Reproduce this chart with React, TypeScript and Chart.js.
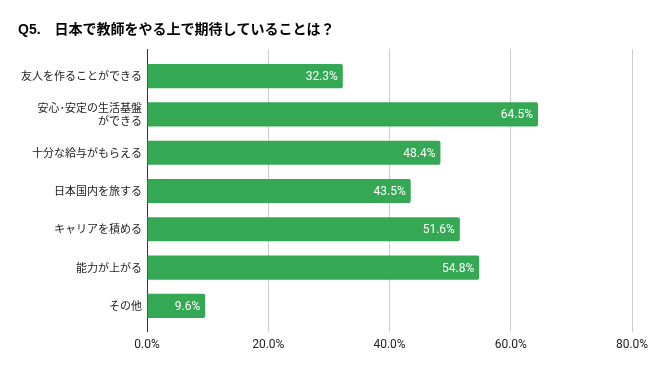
import React, { useEffect, useRef } from "react";
import { Chart, registerables } from "chart.js";

Chart.register(...registerables);

const titleText = "Q5.　日本で教師をやる上で期待していることは？";
const categories: (string | string[])[] = [
  "友人を作ることができる",
  ["安心･安定の生活基盤", "ができる"],
  "十分な給与がもらえる",
  "日本国内を旅する",
  "キャリアを積める",
  "能力が上がる",
  "その他",
];
const values = [32.3, 64.5, 48.4, 43.5, 51.6, 54.8, 9.6];
const xTicks = [0, 20, 40, 60, 80];

const BAR_COLOR = "#34a853";

const gridExtend = {
  id: "gridExtend",
  beforeDatasetsDraw(chart: any) {
    const { ctx, chartArea, scales } = chart;
    const x = scales.x;
    ctx.save();
    ctx.lineWidth = 1;
    xTicks.forEach((t, i) => {
      const px = Math.round(x.getPixelForValue(t) - 0.5) + 0.5;
      ctx.strokeStyle = i === 0 ? "#333333" : "#cccccc";
      ctx.beginPath();
      ctx.moveTo(px, chartArea.top - 8);
      ctx.lineTo(px, chartArea.top);
      ctx.stroke();
    });
    ctx.restore();
  },
};

const barLabels = {
  id: "barLabels",
  afterDatasetsDraw(chart: any) {
    const { ctx } = chart;
    const meta = chart.getDatasetMeta(0);
    ctx.save();
    ctx.fillStyle = "#ffffff";
    ctx.font = "12px Roboto";
    ctx.textAlign = "right";
    ctx.textBaseline = "middle";
    meta.data.forEach((bar: any, i: number) => {
      ctx.fillText(values[i].toFixed(1) + "%", bar.x - 5, bar.y + 1);
    });
    ctx.restore();
  },
};

export default function App() {
  const ref = useRef<HTMLCanvasElement>(null);
  useEffect(() => {
    document.body.style.margin = "0";
    const chart = new Chart(ref.current!, {
      type: "bar",
      data: {
        labels: categories,
        datasets: [
          {
            data: values,
            backgroundColor: BAR_COLOR,
            borderRadius: 2,
            categoryPercentage: 1,
            barPercentage: 0.63,
          },
        ],
      },
      options: {
        indexAxis: "y",
        animation: false,
        responsive: false,
        layout: { padding: { left: 18, right: 20, top: 0, bottom: 0 } },
        plugins: {
          legend: { display: false },
          tooltip: { enabled: false },
          title: {
            display: true,
            text: titleText,
            align: "start",
            color: "#000000",
            font: { family: "'Liberation Sans', 'Noto Sans CJK JP', sans-serif", size: 14, weight: "bold" },
            padding: { top: 21.5, bottom: 18.7 },
          },
        },
        scales: {
          x: {
            type: "linear",
            min: 0,
            max: 80,
            afterBuildTicks: (s: any) => {
              s.ticks = xTicks.map((v) => ({ value: v }));
            },
            afterFit: (s: any) => {
              s.height = 46;
              s.paddingLeft = 0;
              s.paddingRight = 0;
            },
            ticks: {
              color: "#222222",
              font: { family: "Roboto", size: 12 },
              padding: 6,
              callback: (v: any) => Number(v).toFixed(1) + "%",
            },
            grid: {
              color: (c: any) => (c.index === 0 ? "#333333" : "#cccccc"),
              tickLength: 7,
            },
            border: { display: false },
          },
          y: {
            afterFit: (s: any) => {
              s.width = 129;
            },
            ticks: {
              color: "#222222",
              font: { family: "'Noto Sans CJK JP', sans-serif", size: 11, lineHeight: 1.2 },
              padding: 5,
            },
            grid: { display: false, drawTicks: false },
            border: { display: true, color: "#333333" },
          },
        },
      },
      plugins: [gridExtend, barLabels],
    } as any);
    return () => chart.destroy();
  }, []);
  return <canvas ref={ref} width={652} height={371} style={{ display: "block" }} />;
}
